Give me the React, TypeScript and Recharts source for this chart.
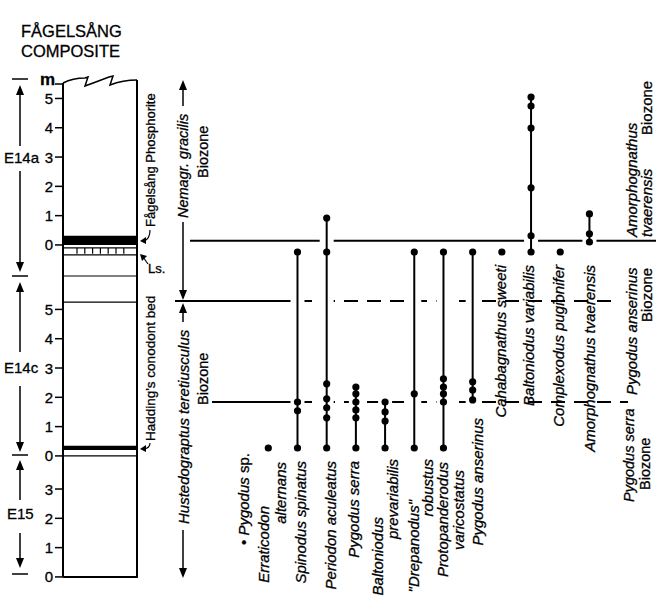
import React from "react";
import { ComposedChart, Scatter, XAxis, YAxis, ReferenceLine, ReferenceArea, ReferenceDot } from "recharts";

const FONT = '"Liberation Sans", Arial, Helvetica, sans-serif';

// metres of each section's zero on the composite scale (m above base of E15)
const sectionZero: Record<string, number> = { E15: 0, E14c: 4.13, E14a: 11.33 };
const e15Ticks = [0, 1, 2, 3];
const e14cTicks = [0, 1, 2, 3, 4, 5];
const e14aTicks = [0, 1, 2, 3, 4, 5];

const taxa = [
  "Pygodus sp.",
  "Erraticodon alternans",
  "Spinodus spinatus",
  "Periodon aculeatus",
  "Pygodus serra",
  "Baltoniodus prevariabilis",
  "\"Drepanodus\" robustus",
  "Protopanderodus varicostatus",
  "Pygodus anserinus",
  "Cahabagnathus sweeti",
  "Baltoniodus variabilis",
  "Complexodus pugionifer",
  "Amorphognathus tvaerensis",
];

// occurrences: [section, metres within section]
type Occ = [string, number][];
const pygodusSp: Occ = [];
const erraticodonAlternans: Occ = [["E14c", 0.27]];
const spinodusSpinatus: Occ = [["E14c", 0.27], ["E14c", 1.54], ["E14c", 1.84], ["E14a", -0.24]];
const periodonAculeatus: Occ = [["E14c", 0.27], ["E14c", 1.3], ["E14c", 1.64], ["E14c", 1.95], ["E14c", 2.46], ["E14a", -0.24], ["E14a", 0.92]];
const pygodusSerra: Occ = [["E14c", 0.27], ["E14c", 1.3], ["E14c", 1.57], ["E14c", 1.84], ["E14c", 2.12], ["E14c", 2.35]];
const baltoniodusPrevariabilis: Occ = [["E14c", 0.27], ["E14c", 1.19], ["E14c", 1.5], ["E14c", 1.84]];
const drepanodusRobustus: Occ = [["E14c", 0.27], ["E14c", 2.12], ["E14a", -0.24]];
const protopanderodusVaricostatus: Occ = [["E14c", 0.27], ["E14c", 1.84], ["E14c", 2.12], ["E14c", 2.35], ["E14c", 2.63], ["E14a", -0.24]];
const pygodusAnserinus: Occ = [["E14c", 1.91], ["E14c", 2.25], ["E14c", 2.53], ["E14a", -0.24]];
const cahabagnathusSweeti: Occ = [["E14a", -0.24]];
const baltoniodusVariabilis: Occ = [["E14a", -0.24], ["E14a", 0.31], ["E14a", 1.95], ["E14a", 3.99], ["E14a", 4.74], ["E14a", 5.05]];
const complexodusPugionifer: Occ = [["E14a", -0.24]];
const amorphognathusTvaerensis: Occ = [["E14a", 0.1], ["E14a", 0.38], ["E14a", 1.06]];

const occurrences = [
  pygodusSp, erraticodonAlternans, spinodusSpinatus, periodonAculeatus, pygodusSerra,
  baltoniodusPrevariabilis, drepanodusRobustus, protopanderodusVaricostatus, pygodusAnserinus,
  cahabagnathusSweeti, baltoniodusVariabilis, complexodusPugionifer, amorphognathusTvaerensis,
];

// biozone boundaries
const zoneTop: [string, number] = ["E14a", 0.14];
const zoneMid: [string, number] = ["E14c", 5.29];
const zoneLow: [string, number] = ["E14c", 1.84];

const comp = (s: string, m: number) => sectionZero[s] + m;

const X_DOMAIN: [number, number] = [-8.19, 14.28];
const Y_DOMAIN: [number, number] = [-0.89, 19.69];

// label placement below each range (px offsets from the lowest point)
const it = (s: string) => <tspan fontStyle="italic">{s}</tspan>;
const labelLayout: Record<string, { t: React.ReactNode; dx: number; dy: number }[]> = {
  "Pygodus sp.": [{ t: <>• {it("Pygodus")} sp.</>, dx: 4, dy: 5 }],
  "Erraticodon alternans": [{ t: it("Erraticodon"), dx: -5, dy: 58 }, { t: it("alternans"), dx: 12, dy: 14 }],
  "Spinodus spinatus": [{ t: it("Spinodus spinatus"), dx: 3, dy: 13 }],
  "Periodon aculeatus": [{ t: it("Periodon aculeatus"), dx: 3, dy: 13 }],
  "Pygodus serra": [{ t: it("Pygodus serra"), dx: -3, dy: 13 }],
  "Baltoniodus prevariabilis": [{ t: it("Baltoniodus"), dx: -8, dy: 69 }, { t: it("prevariabilis"), dx: 7, dy: 11 }],
  "\"Drepanodus\" robustus": [{ t: it("\"Drepanodus\""), dx: -1, dy: 52 }, { t: it("robustus"), dx: 13, dy: 11 }],
  "Protopanderodus varicostatus": [{ t: it("Protopanderodus"), dx: -1, dy: 14 }, { t: it("varicostatus"), dx: 15, dy: 22 }],
  "Pygodus anserinus": [{ t: it("Pygodus anserinus"), dx: 4, dy: 18 }],
  "Cahabagnathus sweeti": [{ t: it("Cahabagnathus sweeti"), dx: -2, dy: 13 }],
  "Baltoniodus variabilis": [{ t: it("Baltoniodus variabilis"), dx: -3, dy: 13 }],
  "Complexodus pugionifer": [{ t: it("Complexodus pugionifer"), dx: -2, dy: 13 }],
  "Amorphognathus tvaerensis": [{ t: it("Amorphognathus tvaerensis"), dx: 0, dy: 23 }],
};

const INK = { fill: "#000", stroke: "#000", strokeWidth: 0.3 };

const Nothing = () => <g />;
const Dot = (p: any) => <circle cx={p.cx} cy={p.cy} r={3.6} fill="#000" />;

const TaxonLabel = (p: any) => {
  const lay = labelLayout[p.payload.name] || [];
  return (
    <g>
      {lay.map((l, k) => {
        const x = p.cx + l.dx;
        const y = p.cy + l.dy;
        return (
          <text key={k} x={x} y={y} transform={`rotate(-90 ${x} ${y})`} textAnchor="end"
            dominantBaseline="central" fontSize={15} fontFamily={FONT} {...INK}>
            {l.t}
          </text>
        );
      })}
    </g>
  );
};

const TickMark = (p: any) => (
  <g>
    <line x1={p.cx - 8} x2={p.cx} y1={p.cy} y2={p.cy} stroke="#000" strokeWidth={1.5} />
    <text x={p.cx - 10} y={p.cy} textAnchor="end" dominantBaseline="central" fontSize={15} fontFamily={FONT} {...INK}>
      {p.payload.label}
    </text>
  </g>
);

type TOpt = { rot?: boolean; anchor?: string; size?: number; weight?: string; base?: string };
const txt = (key: string, x: number, y: number, content: React.ReactNode, o: TOpt = {}) => (
  <ReferenceDot key={key} xAxisId="p" yAxisId="p" x={x} y={y} r={0} ifOverflow="visible"
    shape={(p: any) => (
      <text x={p.cx} y={p.cy} transform={o.rot ? `rotate(-90 ${p.cx} ${p.cy})` : undefined}
        textAnchor={o.anchor || "start"} dominantBaseline={o.base || (o.rot ? "central" : "alphabetic")}
        fontSize={o.size || 15} fontWeight={o.weight || "normal"} fontFamily={FONT} {...INK}>
        {content}
      </text>
    )} />
);

const seg = (key: string, x1: number, y1: number, x2: number, y2: number, w = 1.5, yId = "p") => (
  <ReferenceLine key={key} xAxisId="p" yAxisId={yId} segment={[{ x: x1, y: y1 }, { x: x2, y: y2 }]}
    stroke="#000" strokeWidth={w} ifOverflow="visible" />
);

const head = (key: string, x: number, y: number, dir: "up" | "down") => (
  <ReferenceDot key={key} xAxisId="p" yAxisId="p" x={x} y={y} r={0} ifOverflow="visible"
    shape={(p: any) => {
      const s = dir === "up" ? 1 : -1;
      return <polygon points={`${p.cx},${p.cy} ${p.cx - 4},${p.cy + 10 * s} ${p.cx + 4},${p.cy + 10 * s}`} fill="#000" />;
    }} />
);

const pathDot = (key: string, x: number, y: number, d: (cx: number, cy: number) => React.ReactNode) => (
  <ReferenceDot key={key} xAxisId="p" yAxisId="p" x={x} y={y} r={0} ifOverflow="visible"
    shape={(p: any) => <g>{d(p.cx, p.cy)}</g>} />
);

export default function App() {
  const series = taxa.map((name, i) => ({
    name,
    pts: occurrences[i].map(([s, m]) => ({ x: i, y: comp(s, m) })).sort((a, b) => a.y - b.y),
  }));
  const labelPts = series.map((s, i) => ({ x: i, y: s.pts.length ? s.pts[0].y : comp("E14c", 0.27), name: s.name }));
  const tickPts = [
    ...e15Ticks.map((t) => ({ x: 63, y: comp("E15", t), label: t })),
    ...e14cTicks.map((t) => ({ x: 63, y: comp("E14c", t), label: t })),
    ...e14aTicks.map((t) => ({ x: 63, y: comp("E14a", t), label: t })),
  ];

  const zTop = comp(...zoneTop);
  const zMid = comp(...zoneMid);
  const zLow = comp(...zoneLow);
  const zoneLines = [
    { key: "zt", c: zTop, from: 190, to: 656, dash: undefined as string | undefined },
    { key: "zm1", c: zMid, from: 175, to: 298, dash: undefined },
    { key: "zm2", c: zMid, from: 298, to: 612, dash: "14 9" },
    { key: "zl1", c: zLow, from: 212, to: 298, dash: undefined },
    { key: "zl2", c: zLow, from: 298, to: 628, dash: "14 9" },
  ];

  return (
    <div style={{ position: "absolute", left: 0, top: 0, background: "#fff" }}>
      <ComposedChart width={656} height={603} margin={{ top: 0, right: 0, bottom: 0, left: 0 }}>
        <XAxis xAxisId="t" dataKey="x" type="number" domain={X_DOMAIN} allowDataOverflow hide />
        <XAxis xAxisId="p" dataKey="x" type="number" domain={[0, 656]} allowDataOverflow hide />
        <YAxis yAxisId="m" dataKey="y" type="number" domain={Y_DOMAIN} allowDataOverflow hide />
        <YAxis yAxisId="p" dataKey="y" type="number" domain={[0, 603]} reversed allowDataOverflow hide />

        {/* stratigraphic column */}
        <ReferenceArea xAxisId="p" yAxisId="m" x1={63} x2={137} y1={comp("E14a", 0)} y2={comp("E14a", 0.31)} fill="#000" fillOpacity={1} stroke="none" ifOverflow="visible" />
        <ReferenceArea xAxisId="p" yAxisId="m" x1={63} x2={137} y1={comp("E14c", 0.2)} y2={comp("E14c", 0.35)} fill="#000" fillOpacity={1} stroke="none" ifOverflow="visible" />
        {seg("lsT", 63, comp("E14a", -0.1), 137, comp("E14a", -0.1), 1.2, "m")}
        {seg("lsB", 63, comp("E14a", -0.34), 137, comp("E14a", -0.34), 1.2, "m")}
        {Array.from({ length: 7 }, (_, k) =>
          seg(`lsk${k}`, 77 + k * 7.8, comp("E14a", -0.1), 77 + k * 7.8, comp("E14a", -0.3), 1.2, "m"))}
        {seg("b14a", 63, comp("E14a", -1.06), 137, comp("E14a", -1.06), 1.2, "m")}
        {seg("b14c", 63, comp("E14c", 5.25), 137, comp("E14c", 5.25), 1.2, "m")}
        {seg("b15", 63, comp("E14c", 0), 137, comp("E14c", 0), 1.2, "m")}
        {seg("colL", 63, 83, 63, 577, 2)}
        {seg("colR", 137, 80, 137, 578, 2)}
        {seg("colB", 63, 577, 137, 577, 2)}
        {seg("mLine", 55, 84, 63, 84, 1.5)}
        {pathDot("wave", 63, 83, (cx, cy) => (
          <path d={`M${cx},${cy} Q${cx + 10},${cy - 5} ${cx + 22},${cy - 5} L${cx + 25},${cy - 6} L${cx + 22},${cy + 3} Q${cx + 33},${cy - 1} ${cx + 46},${cy - 6} L${cx + 50},${cy - 7} L${cx + 47},${cy + 2} Q${cx + 60},${cy - 3} ${cx + 74},${cy - 3}`}
            fill="none" stroke="#000" strokeWidth={1.5} />
        ))}
        <Scatter xAxisId="p" yAxisId="m" data={tickPts} shape={TickMark} isAnimationActive={false} />

        {/* labels beside the column */}
        {txt("m", 40, 85, "m", { size: 17, weight: "bold" })}
        {txt("t1", 21, 37, "FÅGELSÅNG", { size: 16.5 })}
        {txt("t2", 21, 57, "COMPOSITE", { size: 16.5 })}
        {txt("phos", 150, 227, "Fågelsång Phosphorite", { rot: true, size: 13 })}
        {pathDot("phosA", 140, 241, (cx, cy) => (
          <g>
            <path d={`M${cx + 10},${cy - 11} Q${cx + 10},${cy - 2} ${cx + 4},${cy}`} fill="none" stroke="#000" strokeWidth={1.2} />
            <polygon points={`${cx},${cy} ${cx + 6},${cy - 4} ${cx + 6},${cy + 3}`} fill="#000" />
          </g>
        ))}
        {txt("ls", 148, 273, "Ls.", { size: 13 })}
        {pathDot("lsA", 140, 254, (cx, cy) => (
          <g>
            <line x1={cx + 3} y1={cy + 3} x2={cx + 8} y2={cy + 10} stroke="#000" strokeWidth={1.2} />
            <polygon points={`${cx},${cy} ${cx + 7},${cy + 2} ${cx + 2},${cy + 7}`} fill="#000" />
          </g>
        ))}
        {txt("had", 150, 441, "Hadding's conodont bed", { rot: true, size: 13.5 })}
        {pathDot("hadA", 140, 449, (cx, cy) => (
          <g>
            <path d={`M${cx + 10},${cy - 6} Q${cx + 10},${cy - 1} ${cx + 4},${cy}`} fill="none" stroke="#000" strokeWidth={1.2} />
            <polygon points={`${cx},${cy} ${cx + 6},${cy - 4} ${cx + 6},${cy + 3}`} fill="#000" />
          </g>
        ))}

        {/* section arrows */}
        {seg("d1", 12, 79, 28, 79)}
        {seg("d2", 12, 276, 28, 276)}
        {seg("d3", 12, 455, 28, 455)}
        {seg("d4", 12, 574, 28, 574)}
        {head("a1", 20, 85, "up")}
        {seg("a1l", 20, 92, 20, 146)}
        {txt("e14a", 4, 163, "E14a")}
        {seg("a2l", 20, 171, 20, 264)}
        {head("a2", 20, 272, "down")}
        {head("a3", 20, 282, "up")}
        {seg("a3l", 20, 289, 20, 352)}
        {txt("e14c", 4, 373, "E14c")}
        {seg("a4l", 20, 386, 20, 445)}
        {head("a4", 20, 452, "down")}
        {head("a5", 20, 460, "up")}
        {seg("a5l", 20, 467, 20, 500)}
        {txt("e15", 7, 519, "E15")}
        {seg("a6l", 20, 533, 20, 560)}
        {head("a6", 20, 568, "down")}

        {/* graptolite biozones */}
        {head("g1", 183, 80, "up")}
        {seg("g1l", 183, 88, 183, 106)}
        {txt("ng", 183, 218, <tspan fontStyle="italic">Nemagr. gracilis</tspan>, { rot: true, size: 14.5 })}
        {txt("ngb", 203, 178, "Biozone", { rot: true, size: 14.5 })}
        {seg("g2l", 183, 222, 183, 292)}
        {head("g2", 183, 300, "down")}
        {head("g3", 183, 303, "up")}
        {seg("g3l", 183, 310, 183, 322)}
        {txt("ht", 183, 524, <tspan fontStyle="italic">Hustedograptus teretiusculus</tspan>, { rot: true, size: 15 })}
        {txt("htb", 203, 405, "Biozone", { rot: true, size: 14.5 })}
        {seg("g4l", 183, 530, 183, 570)}
        {head("g4", 183, 578, "down")}

        {/* conodont biozones */}
        {txt("z1", 631, 237, <tspan fontStyle="italic">Amorphognathus</tspan>, { rot: true, size: 15 })}
        {txt("z1b", 646, 237, <tspan fontStyle="italic">tvaerensis</tspan>, { rot: true, size: 15 })}
        {txt("z1c", 646, 135, "Biozone", { rot: true, size: 15 })}
        {txt("z2", 631, 395, <tspan fontStyle="italic">Pygodus anserinus</tspan>, { rot: true, size: 15 })}
        {txt("z2b", 646, 322, "Biozone", { rot: true, size: 15 })}
        {txt("z3", 629, 502, <tspan fontStyle="italic">Pygodus serra</tspan>, { rot: true, size: 14.5 })}
        {txt("z3b", 645, 490, "Biozone", { rot: true, size: 14.5 })}

        {/* zone boundaries, then white halos, then ranges */}
        {zoneLines.map((z) => (
          <Scatter key={z.key} xAxisId="p" yAxisId="m" data={[{ x: z.from, y: z.c }, { x: z.to, y: z.c }]}
            shape={Nothing} line={{ stroke: "#000", strokeWidth: 2, strokeDasharray: z.dash }} isAnimationActive={false} />
        ))}
        {series.filter((s) => s.pts.length > 1).map((s) => (
          <Scatter key={`h-${s.name}`} xAxisId="t" yAxisId="m" data={s.pts} shape={Nothing}
            line={{ stroke: "#fff", strokeWidth: 14, strokeLinecap: "square" }} isAnimationActive={false} />
        ))}
        {series.filter((s) => s.pts.length > 0).map((s) => (
          <Scatter key={`r-${s.name}`} xAxisId="t" yAxisId="m" data={s.pts} shape={Dot}
            line={{ stroke: "#000", strokeWidth: 2 }} isAnimationActive={false} />
        ))}
        <Scatter xAxisId="t" yAxisId="m" data={labelPts} shape={TaxonLabel} isAnimationActive={false} />
      </ComposedChart>
    </div>
  );
}
